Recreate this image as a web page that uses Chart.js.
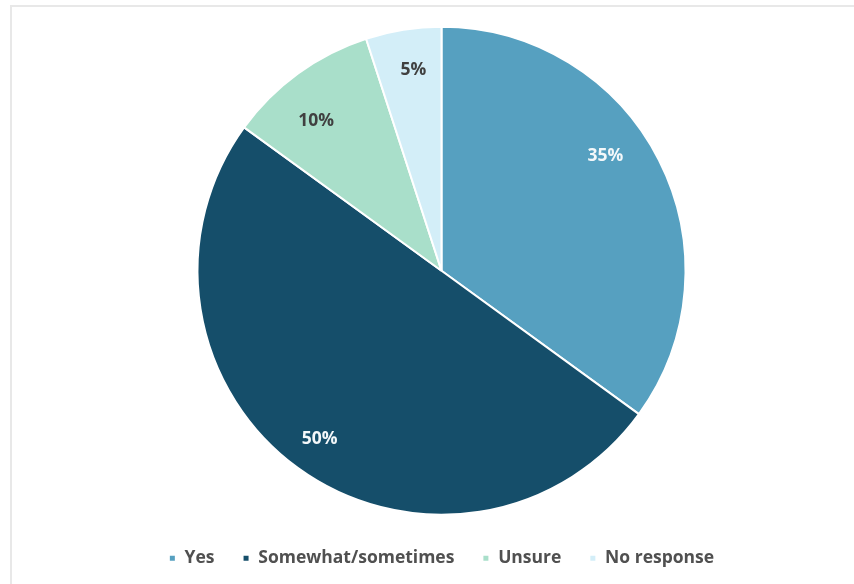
<!DOCTYPE html>
<html>
<head>
<meta charset="utf-8">
<script src="https://cdn.jsdelivr.net/npm/chart.js@4.4.1/dist/chart.umd.min.js"></script>
<style>
  html, body { margin: 0; padding: 0; background: #ffffff; overflow: hidden; width: 854px; height: 584px; }
  #frame { position: absolute; left: 10px; top: 5px; width: 900px; height: 700px;
           border-left: 2px solid #e8e8e8; border-top: 2px solid #e8e8e8; }
  #wrap { position: absolute; left: 0; top: 0; width: 854px; height: 577px; }
</style>
</head>
<body>
<div id="frame"></div>
<div id="wrap"><canvas id="chart"></canvas></div>
<script>
// Survey answers and their shares (percent)
const categories = ['Yes', 'Somewhat/sometimes', 'Unsure', 'No response'];
const shares = [35, 50, 10, 5];

const sliceColors = ['#56A0C0', '#154E6A', '#A9DFCA', '#D3EEF8'];
const labelColors = ['#F4F8FA', '#F4F8FA', '#404040', '#404040'];
// label placement inside each slice: angular nudge (degrees) and radial reach
const labelNudge = [-8, 0, -4, 1];
const labelReach = [0.82, 0.85, 0.80, 0.83];

const sliceLabels = {
  id: 'sliceLabels',
  afterDatasetsDraw(chart) {
    const ctx = chart.ctx;
    const meta = chart.getDatasetMeta(0);
    const values = chart.data.datasets[0].data;
    ctx.save();
    ctx.font = 'bold 17.5px "Open Sans", sans-serif';
    ctx.textAlign = 'center';
    ctx.textBaseline = 'middle';
    meta.data.forEach((arc, i) => {
      const p = arc.getProps(['x', 'y', 'startAngle', 'endAngle', 'outerRadius'], true);
      const mid = (p.startAngle + p.endAngle) / 2 + labelNudge[i] * Math.PI / 180;
      const r = p.outerRadius * labelReach[i];
      ctx.fillStyle = labelColors[i];
      ctx.fillText(values[i] + '%', p.x + Math.cos(mid) * r, p.y + Math.sin(mid) * r);
    });
    ctx.restore();
  }
};

new Chart(document.getElementById('chart'), {
  type: 'pie',
  data: {
    labels: categories,
    datasets: [{
      data: shares,
      backgroundColor: sliceColors,
      borderColor: '#ffffff',
      borderWidth: 2,
      radius: 244
    }]
  },
  options: {
    responsive: true,
    maintainAspectRatio: false,
    animation: false,
    layout: { padding: { left: 29, right: 0, top: 20, bottom: 0 } },
    plugins: {
      tooltip: { enabled: false },
      legend: {
        position: 'bottom',
        labels: {
          boxWidth: 7,
          boxHeight: 7,
          padding: 28,
          color: '#505050',
          font: { family: '"Open Sans", sans-serif', size: 17.5, weight: 'bold' }
        }
      }
    }
  },
  plugins: [sliceLabels]
});
</script>
</body>
</html>
